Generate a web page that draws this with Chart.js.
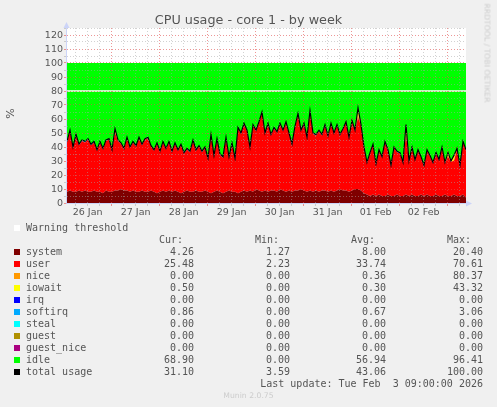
<!DOCTYPE html>
<html>
<head>
<meta charset="utf-8">
<script src="https://cdn.jsdelivr.net/npm/chart.js@4"></script>
<style>
html, body { margin: 0; padding: 0; background: #f0f0f0; }
#wrap { position: relative; width: 497px; height: 407px; overflow: hidden; }
#wrap canvas { position: absolute; left: 0; top: 0; }
.t { position: absolute; white-space: pre; line-height: 12px; }
.mono { font: 10px "DejaVu Sans Mono", monospace; color: #555; }
.swatch { position: absolute; left: 14px; width: 6px; height: 6px; }
</style>
</head>
<body>
<div id="wrap">
  <canvas id="cpu" width="497" height="407"></canvas>
  <div class="t" style="left:0;width:497px;top:12px;text-align:center;font:12.8px 'DejaVu Sans';line-height:15px;color:#555">CPU usage - core 1 - by week</div>
  <div class="t" style="left:-1px;top:107px;transform:rotate(-90deg);font:11px 'DejaVu Sans';color:#555;width:22px;text-align:center">%</div>
  <div class="t" style="left:438px;top:48px;width:98px;text-align:center;transform:rotate(90deg);font:7.7px 'DejaVu Sans';color:#ccc">RRDTOOL / TOBI OETIKER</div>
  <div class="t" style="left:0;width:497px;top:391px;text-align:center;font:7.7px 'DejaVu Sans';color:#ccc">Munin 2.0.75</div>
  <div id="legend"></div>
</div>
<script>
// x positions: one sample every 1.5 hours, hours counted from 27 Jan 00:00
const startHour = -22.3;
const endHour = 177.2;
const dayLabels = ['26 Jan', '27 Jan', '28 Jan', '29 Jan', '30 Jan', '31 Jan', '01 Feb', '02 Feb'];

const system = [
  8,9,8,8,9,8,9,8,8,9,8,8,7,9,8,8,9,9,10,9,9,8,9,8,8,9,8,
  8,9,8,7,8,9,8,9,8,9,8,7,8,9,8,8,9,8,8,9,8,7,8,9,8,7,8,
  9,8,8,7,8,9,8,9,8,10,9,8,9,8,9,9,8,10,9,8,9,8,9,9,10,9,
  8,9,8,9,8,9,9,8,9,8,9,10,9,9,8,9,10,10,9,7,
  6,5,6,5,6,5,5,6,5,5,6,5,5,6,5,6,5,5,6,5,6,5,5,6,5,5,6,5,5,6,5,5,6,4
];
const user = [
  35.3,42.3,31.3,40.3,32.3,36.3,34.3,37.3,33.3,34.3,29.3,35.3,31.3,35.3,37.3,29.3,41.3,35.3,32.3,29.3,37.3,31.3,34.3,32.3,38.3,32.3,37.3,
  38.3,31.3,29.3,35.3,28.3,34.3,30.3,34.3,28.3,33.3,29.3,34.3,27.3,29.3,28.3,36.3,28.3,32.3,28.3,30.3,23.3,41.3,25.3,36.3,26.3,25.3,38.3,
  23.3,34.3,23.3,46.3,41.3,47.3,43.3,30.3,47.3,41.3,48.3,56.3,40.3,48.3,39.3,44.3,42.3,46.3,42.3,49.3,40.3,33.3,45.3,54.3,41.3,47.3,
  38.3,56.3,41.3,39.3,43.3,39.3,46.3,39.3,47.3,41.3,46.3,38.3,43.3,48.3,38.3,49.3,41.3,51.3,46.3,32.3,
  22.3,30.3,35.3,22.3,31.3,27.3,38.3,31.3,21.3,34.3,30.3,30.3,23.3,43.3,24.3,33.3,25.3,32.3,26.3,21.3,31.3,28.3,23.3,29.3,25.3,34.3,22.3,28.3,24.3,24.3,33.3,21.3,37.3,33.3
];
const nice = [
  0,0,0,0,0,0,0,0,0,0,0,0,0,0,0,0,0,0,0,0,0,0,0,0,0,0,0,
  0,0,0,0,0,0,0,0,0,0,0,0,0,0,0,0,0,0,0,0,0,0,0,0,0,0,0,
  0,0,0,0,0,0,0,0,0,0,0,0,0,0,0,0,0,0,0,0,0,0,0,0,0,0,
  0,0,0,0,0,0,0,0,0,0,0,0,0,0,0,0,0,2,0,0,
  0,0,0,0,0,0,0,0,0,0,0,0,0,0,0,0,0,0,0,0,0,0,0,0,0,0,0,0,0,0,0,0,0,0
];
const iowait = [
  0,0,0,0,0,0,0,0,0,0,0,0,0,0,0,0,2,0,0,0,0,0,0,0,0,0,0,
  0,0,0,0,0,0,0,0,0,0,0,0,0,0,0,0,0,0,0,0,0,0,0,0,0,0,0,
  0,0,0,0,0,0,0,0,0,0,0,0,0,0,0,0,0,0,0,0,0,0,0,0,0,0,
  0,0,0,0,0,0,0,0,0,0,0,0,0,0,0,0,0,4,0,0,
  0,0,0,0,0,0,0,0,0,0,0,0,0,6,0,0,0,0,0,0,0,0,0,0,0,0,0,2,0,3,0,0,0,0
];
const softirq = [
  .7,.7,.7,.7,.7,.7,.7,.7,.7,.7,.7,.7,.7,.7,.7,.7,.7,.7,.7,.7,.7,.7,.7,.7,.7,.7,.7,
  .7,.7,.7,.7,.7,.7,.7,.7,.7,.7,.7,.7,.7,.7,.7,.7,.7,.7,.7,.7,.7,.7,.7,.7,.7,.7,.7,
  .7,.7,.7,.7,.7,.7,.7,.7,.7,.7,.7,.7,.7,.7,.7,.7,.7,.7,.7,.7,.7,.7,.7,.7,.7,.7,
  .7,.7,.7,.7,.7,.7,.7,.7,.7,.7,.7,.7,.7,.7,.7,.7,.7,.7,.7,.7,
  .7,.7,.7,.7,.7,.7,.7,.7,.7,.7,.7,.7,.7,.7,.7,.7,.7,.7,.7,.7,.7,.7,.7,.7,.7,.7,.7,.7,.7,.7,.7,.7,.7,.7
];
const idle = [
  56,48,60,51,58,55,56,54,58,56,62,56,61,55,54,62,47,55,57,61,53,60,56,59,53,58,54,
  53,59,62,57,63,56,61,56,63,57,62,58,64,61,63,55,62,59,63,60,68,51,66,54,65,67,53,
  67,57,68,46,50,43,48,60,44,48,42,35,50,43,51,46,49,43,48,42,50,58,45,36,48,43,
  53,34,50,51,48,51,44,52,43,50,44,51,47,42,53,41,48,32,44,60,
  71,64,58,72,62,67,56,62,73,60,63,64,71,44,70,60,69,62,67,73,62,66,71,64,69,60,71,64,70,66,61,73,56,62
];
const totalUsage = [
  44,52,40,49,42,45,44,46,42,44,38,44,39,45,46,38,53,45,43,39,47,40,44,41,47,42,46,
  47,41,38,43,37,44,39,44,37,43,38,42,36,39,37,45,38,41,37,40,32,49,34,46,35,33,47,
  33,43,32,54,50,57,52,40,56,52,58,65,50,57,49,54,51,57,52,58,50,42,55,64,52,57,
  47,66,50,49,52,49,56,48,57,50,56,49,53,58,47,59,52,68,56,40,
  29,36,42,28,38,33,44,38,27,40,37,36,29,56,30,40,31,38,33,27,38,34,29,36,31,40,29,36,30,34,39,27,44,38
];
const warningLevel = 80;

// legend table
const seriesNames = ['system', 'user', 'nice', 'iowait', 'irq', 'softirq', 'steal', 'guest', 'guest_nice', 'idle', 'total usage'];
const seriesColors = ['#7f0000', '#ff0000', '#ff9900', '#ffff00', '#0000ff', '#00aaff', '#00ffff', '#b09000', '#aa0080', '#00ff00', '#000000'];
const curValues = ['4.26', '25.48', '0.00', '0.50', '0.00', '0.86', '0.00', '0.00', '0.00', '68.90', '31.10'];
const minValues = ['1.27', '2.23', '0.00', '0.00', '0.00', '0.00', '0.00', '0.00', '0.00', '0.00', '3.59'];
const avgValues = ['8.00', '33.74', '0.36', '0.30', '0.00', '0.67', '0.00', '0.00', '0.00', '56.94', '43.06'];
const maxValues = ['20.40', '70.61', '80.37', '43.32', '0.00', '3.06', '0.00', '0.00', '0.00', '96.41', '100.00'];

const hours = system.map((v, i) => startHour + i * 1.5);
const points = (arr) => arr.map((v, i) => ({ x: hours[i], y: v }));
const noData = system.map(() => 0);

function areaSet(label, values, color, first) {
    return {
        label: label,
        data: points(values),
        backgroundColor: color,
        borderWidth: 0,
        pointRadius: 0,
        fill: first ? 'origin' : '-1',
        stack: 'cpu',
        order: 2
    };
}

const plotDecor = {
    id: 'plotDecor',
    beforeDraw(chart) {
        const a = chart.chartArea;
        const c = chart.ctx;
        c.save();
        c.fillStyle = '#ffffff';
        c.fillRect(a.left, a.top, a.right - a.left, a.bottom - a.top);
        c.restore();
    },
    afterDraw(chart) {
        // pale axis lines and arrows
        const a = chart.chartArea;
        const c = chart.ctx;
        c.save();
        c.strokeStyle = '#ccd4f8';
        c.lineWidth = 1;
        c.beginPath();
        c.moveTo(a.left - 0.5, a.top);
        c.lineTo(a.left - 0.5, a.bottom + 0.5);
        c.lineTo(a.right, a.bottom + 0.5);
        c.stroke();
        c.fillStyle = '#ccd4f8';
        c.beginPath();
        c.moveTo(a.left - 3.5, a.top);
        c.lineTo(a.left + 2.5, a.top);
        c.lineTo(a.left - 0.5, a.top - 6);
        c.fill();
        c.beginPath();
        c.moveTo(a.right, a.bottom - 2.5);
        c.lineTo(a.right, a.bottom + 3.5);
        c.lineTo(a.right + 6, a.bottom + 0.5);
        c.fill();
        c.restore();
    }
};

new Chart(document.getElementById('cpu').getContext('2d'), {
    type: 'line',
    plugins: [plotDecor],
    data: {
        datasets: [
            areaSet('system', system, seriesColors[0], true),
            areaSet('user', user, seriesColors[1]),
            areaSet('nice', nice, seriesColors[2]),
            areaSet('iowait', iowait, seriesColors[3]),
            areaSet('irq', noData, seriesColors[4]),
            areaSet('softirq', softirq, seriesColors[5]),
            areaSet('steal', noData, seriesColors[6]),
            areaSet('guest', noData, seriesColors[7]),
            areaSet('guest_nice', noData, seriesColors[8]),
            areaSet('idle', idle, seriesColors[9]),
            {
                label: 'total usage',
                data: points(totalUsage),
                borderColor: '#000000',
                borderWidth: 1.2,
                pointRadius: 0,
                fill: false,
                stack: 'total',
                order: 1
            },
            {
                label: 'Warning threshold',
                data: [{ x: startHour, y: warningLevel }, { x: endHour, y: warningLevel }],
                borderColor: '#ffffff',
                borderWidth: 1.5,
                pointRadius: 0,
                fill: false,
                stack: 'warning',
                order: 0
            }
        ]
    },
    options: {
        responsive: false,
        animation: false,
        layout: { padding: { top: 28, right: 31, bottom: 189, left: 0 } },
        plugins: { legend: { display: false }, title: { display: false }, tooltip: { enabled: false } },
        scales: {
            x: {
                type: 'linear',
                min: startHour,
                max: endHour,
                afterFit(scale) { scale.height = 15; },
                border: { display: false, dash: [1, 2] },
                grid: {
                    z: 1,
                    tickLength: 3,
                    color: (ctx) => (ctx.tick && ctx.tick.value % 24 === 0 ? 'rgba(225,80,80,0.6)' : 'rgba(165,165,165,0.5)')
                },
                ticks: {
                    stepSize: 6,
                    includeBounds: false,
                    autoSkip: false,
                    maxRotation: 0,
                    padding: 1,
                    color: '#555',
                    font: { family: 'DejaVu Sans', size: 9.5 },
                    callback(v) {
                        // day names sit at noon of each day
                        return (v + 12) % 24 === 0 ? dayLabels[(v + 12) / 24] : '';
                    }
                }
            },
            y: {
                stacked: true,
                min: 0,
                max: 125,
                afterFit(scale) { scale.width = 67; },
                border: { display: false, dash: [1, 2] },
                grid: {
                    z: 1,
                    tickLength: 3,
                    color: (ctx) => (ctx.tick && ctx.tick.value % 10 === 0 ? 'rgba(225,80,80,0.6)' : 'rgba(165,165,165,0.5)')
                },
                ticks: {
                    stepSize: 5,
                    autoSkip: false,
                    padding: 1,
                    labelOffset: 1,
                    color: '#555',
                    font: { family: 'DejaVu Sans', size: 9.5 },
                    callback(v) { return v % 10 === 0 ? String(v) : ''; }
                }
            }
        }
    }
});

// legend rows, real text
const legend = document.getElementById('legend');
function addText(text, left, top, right) {
    const el = document.createElement('div');
    el.className = 't mono';
    el.textContent = text;
    el.style.top = top + 'px';
    if (right) {
        el.style.right = (497 - left) + 'px';
    } else {
        el.style.left = left + 'px';
    }
    legend.appendChild(el);
}
function addSwatch(color, top) {
    const el = document.createElement('div');
    el.className = 'swatch';
    el.style.background = color;
    el.style.top = top + 'px';
    legend.appendChild(el);
}
addSwatch('#ffffff', 225);
addText('Warning threshold', 26, 222);
addText('Cur:', 159, 234);
addText('Min:', 255, 234);
addText('Avg:', 351, 234);
addText('Max:', 447, 234);
seriesNames.forEach((name, i) => {
    const top = 246 + i * 12;
    addSwatch(seriesColors[i], top + 3);
    addText(name, 26, top);
    addText(curValues[i], 194, top, true);
    addText(minValues[i], 290, top, true);
    addText(avgValues[i], 386, top, true);
    addText(maxValues[i], 483, top, true);
});
addText('Last update: Tue Feb  3 09:00:00 2026', 483, 378, true);
</script>
</body>
</html>
